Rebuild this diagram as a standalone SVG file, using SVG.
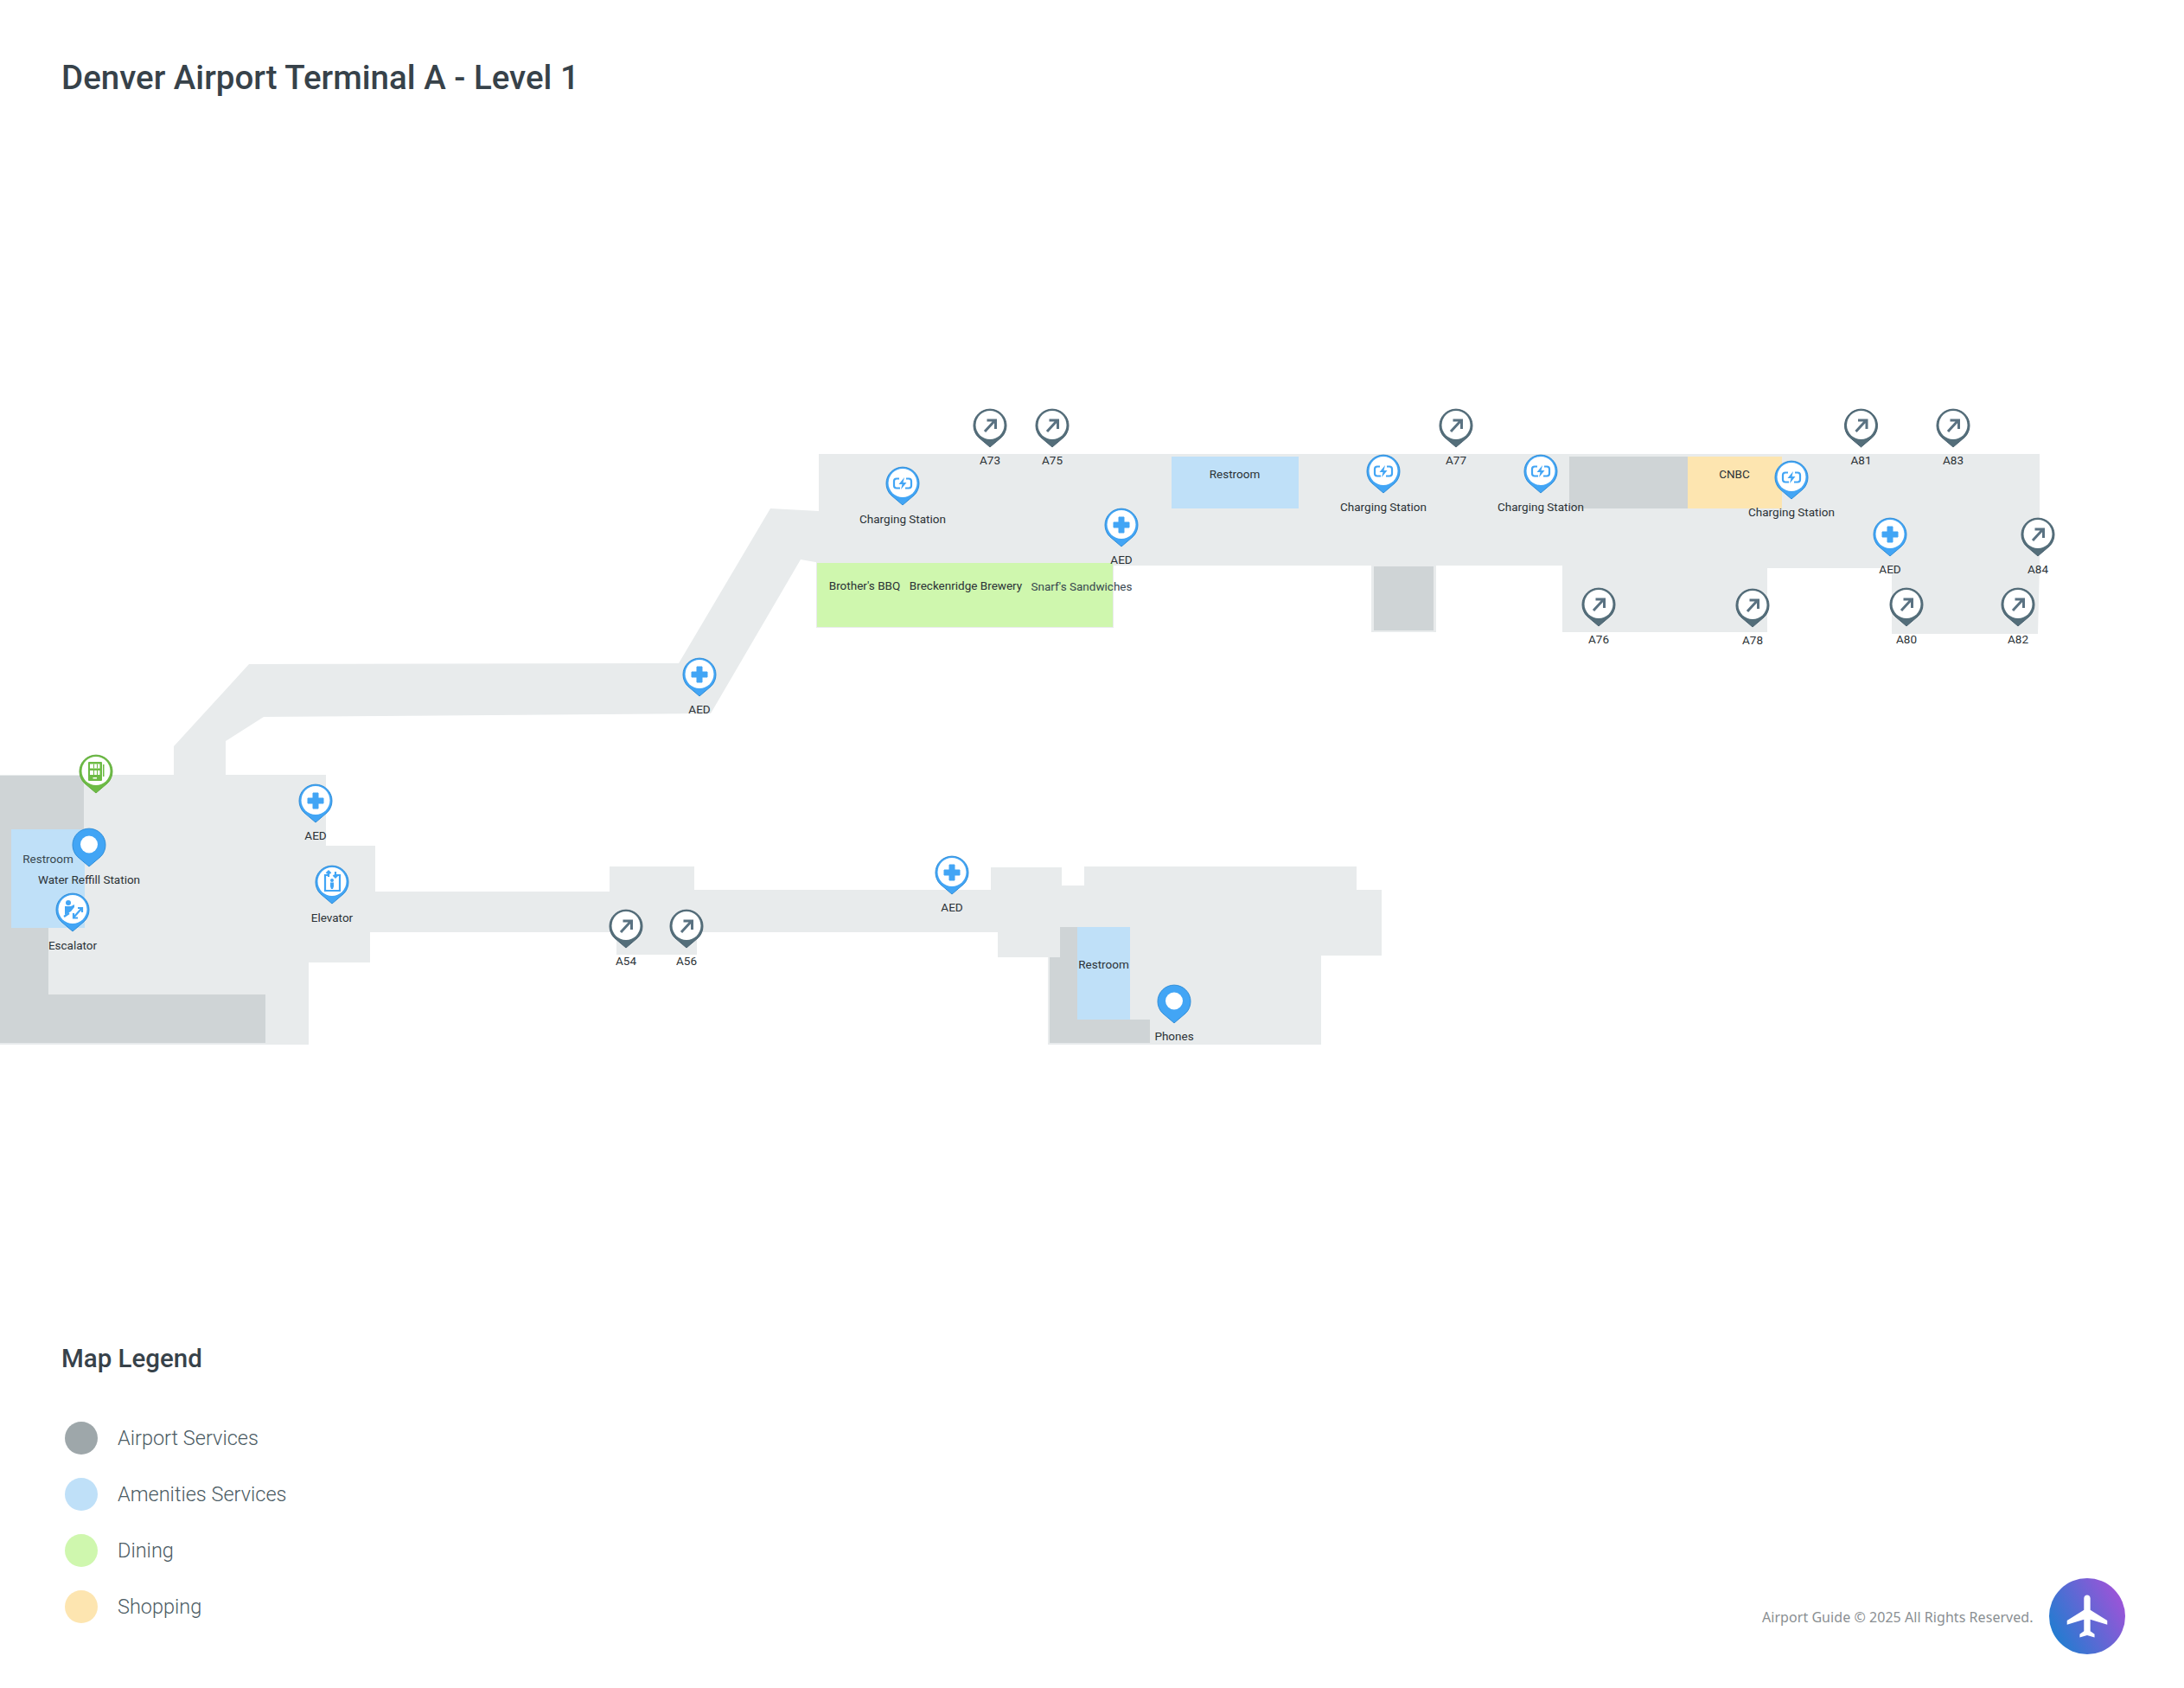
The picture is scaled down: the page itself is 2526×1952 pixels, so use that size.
<svg xmlns="http://www.w3.org/2000/svg" width="2526" height="1952" viewBox="0 0 2526 1952">
<style>
.floor{fill:#e8ebec}.svc{fill:#cfd4d6}.am{fill:#bfe0f8}.din{fill:#cff7ae}.shop{fill:#fde5b0}
text{font-family:Roboto,"Liberation Sans",sans-serif}
.l{font-size:13.5px;fill:#2b3236;text-anchor:middle;dominant-baseline:central}
.r{fill:#37474f}
.lt{font-size:23.5px;font-weight:300;fill:#4c5c64}
.p-b{fill:#42a5f5;stroke:#2f8dd8;stroke-width:1}
.p-g{fill:#546e7a;stroke:#4a6270;stroke-width:1}
.p-v{fill:#6dbb45;stroke:#62ac3d;stroke-width:1}
.in{fill:#fff}
.i{fill:none;stroke:#42a5f5;stroke-width:2.2}
.f{fill:#42a5f5}
.ag{fill:none;stroke:#5a7282;stroke-width:3}
</style>
<defs>
<path id="pin" d="M0,25L-13.2,13.8A19,19 0 1 1 13.2,13.8Z"/>
<linearGradient id="lg" x1="0" y1="0.8" x2="1" y2="0.25"><stop offset="0" stop-color="#1a7fd0"/><stop offset="1" stop-color="#a152d8"/></linearGradient>
<g id="bg"><use href="#pin" class="p-b"/><circle r="16.5" cy="-0.5" class="in"/></g>
<g id="aed"><use href="#bg"/><path class="f" d="M-3,-9H3V-3H9V3H3V9H-3V3H-9V-3H-3Z" stroke="#42a5f5" stroke-width="1" stroke-linejoin="round"/></g>
<g id="gate"><use href="#pin" class="p-g"/><circle r="16.5" cy="-0.5" class="in"/><path class="ag" d="M-6,7L5.500,-5.500M-3.500,-6H6.500V4"/></g>
<g id="chg"><use href="#bg"/><path class="i" d="M-4,-5.500H-7Q-10,-5.500 -10,-2.500V2.500Q-10,5.500 -7,5.500H-3M4,-5.500H7Q10,-5.500 10,-2.500V2.500Q10,5.500 7,5.500H3"/><path class="f" d="M2,-7L-4.500,1H-0.500L-2,7L4.500,-1H0.500Z"/></g>
<g id="solid"><use href="#pin" class="p-b"/><circle r="10" cy="-0.5" class="in"/></g>
</defs>
<rect width="2526" height="1952" fill="#fff"/>
<text x="71" y="102.500" font-size="38.500" font-weight="500" fill="#37424a">Denver Airport Terminal A - Level 1</text>
<g id="floorplan">
<path class="floor" d="M0,896H201V863L288,768L785,767L891,588L947,591V525H2359V654L2357,733H2188V657H2044V731H1807V654H1661V731H1586V654H1287V650H943V650L926,647L822,825L305,829L261,857V896H377V978H434V1031H705V1002H803V1029H1146V1003H1228V1024H1254V1002H1569V1029H1598V1105H1528V1208H1212V1107H1154V1078H806V1104H713V1078H428V1113H357V1208H0Z"/>
<rect class="floor" x="944" y="650" width="344" height="76"/>
<path class="svc" d="M0,897H97V1073H56V1150H307V1206H0Z"/>
<rect class="am" x="13" y="959" width="85" height="114"/>
<rect class="din" x="945" y="651" width="342" height="74"/>
<rect class="am" x="1355" y="528" width="147" height="60"/>
<rect class="svc" x="1589" y="655" width="69" height="74"/>
<rect class="svc" x="1815" y="528" width="137" height="60"/>
<rect class="shop" x="1952" y="528" width="109" height="60"/>
<path class="svc" d="M1226,1072H1246V1179H1330V1206H1214V1107H1226Z"/>
<rect class="am" x="1246" y="1072" width="61" height="107"/>
</g>
<g id="area-labels">
<text class="l r" x="55.500" y="993">Restroom</text>
<text class="l" x="1000" y="677">Brother's BBQ</text>
<text class="l" x="1117" y="677">Breckenridge Brewery</text>
<text class="l r" x="1251" y="678">Snarf's Sandwiches</text>
<text class="l" x="1428" y="548">Restroom</text>
<text class="l" x="2006" y="548">CNBC</text>
<text class="l" x="1276.500" y="1115">Restroom</text>
</g>
<g id="pois">
<g id="poi-a73" transform="translate(1145,492)"><use href="#gate"/><text class="l" y="40">A73</text></g>
<g id="poi-a75" transform="translate(1217,492)"><use href="#gate"/><text class="l" y="40">A75</text></g>
<g id="poi-a77" transform="translate(1684,492)"><use href="#gate"/><text class="l" y="40">A77</text></g>
<g id="poi-a81" transform="translate(2152.500,492)"><use href="#gate"/><text class="l" y="40">A81</text></g>
<g id="poi-a83" transform="translate(2259,492)"><use href="#gate"/><text class="l" y="40">A83</text></g>
<g id="poi-a84" transform="translate(2357,618)"><use href="#gate"/><text class="l" y="40">A84</text></g>
<g id="poi-a76" transform="translate(1849,699)"><use href="#gate"/><text class="l" y="40">A76</text></g>
<g id="poi-a78" transform="translate(2027,700)"><use href="#gate"/><text class="l" y="40">A78</text></g>
<g id="poi-a80" transform="translate(2205,699)"><use href="#gate"/><text class="l" y="40">A80</text></g>
<g id="poi-a82" transform="translate(2334,699)"><use href="#gate"/><text class="l" y="40">A82</text></g>
<g id="poi-a54" transform="translate(724,1071)"><use href="#gate"/><text class="l" y="40">A54</text></g>
<g id="poi-a56" transform="translate(794,1071)"><use href="#gate"/><text class="l" y="40">A56</text></g>
<g id="poi-charging-1" transform="translate(1044,559)"><use href="#chg"/><text class="l" y="41">Charging Station</text></g>
<g id="poi-charging-2" transform="translate(1600,545)"><use href="#chg"/><text class="l" y="41">Charging Station</text></g>
<g id="poi-charging-3" transform="translate(1782,545)"><use href="#chg"/><text class="l" y="41">Charging Station</text></g>
<g id="poi-charging-4" transform="translate(2072,552)"><use href="#chg"/><text class="l" y="40">Charging Station</text></g>
<g id="poi-aed-1" transform="translate(1297,607)"><use href="#aed"/><text class="l" y="40">AED</text></g>
<g id="poi-aed-2" transform="translate(2186,618)"><use href="#aed"/><text class="l" y="40">AED</text></g>
<g id="poi-aed-3" transform="translate(809,780)"><use href="#aed"/><text class="l" y="40">AED</text></g>
<g id="poi-aed-4" transform="translate(365,926)"><use href="#aed"/><text class="l" y="40">AED</text></g>
<g id="poi-aed-5" transform="translate(1101,1009)"><use href="#aed"/><text class="l" y="40">AED</text></g>
<g id="poi-vending" transform="translate(111,892)"><use href="#pin" class="p-v"/><circle r="16.500" cy="-0.500" class="in"/><rect x="-9" y="-11" width="16" height="22" rx="1" fill="#6dbb45"/><rect x="8" y="-8" width="1.500" height="14" fill="#6dbb45"/><path fill="#fff" d="M-7,-8.500H4.500V-3.500H-7ZM-7,-1H4.500V4H-7ZM-3.500,7H1V8.500H-3.500Z"/><path fill="#6dbb45" d="M-3,-8.500H-2V-3.500H-3ZM1,-8.500H2V-3.500H1ZM-3,-1H-2V4H-3ZM1,-1H2V4H1Z"/></g>
<g id="poi-water" transform="translate(103,977)"><use href="#solid"/><text class="l" y="40">Water Reffill Station</text></g>
<g id="poi-escalator" transform="translate(84,1052)"><use href="#bg"/><circle cx="-5" cy="-8" r="3" class="f"/><path class="f" d="M-9,-4H-2L2,-6V-3L-2,2L-9,6V3Z"/><path class="i" stroke-width="2" d="M-10,8L-4,4M1,9L10,-1M6,-2H11V3M1,4V9.500H6"/><text class="l" y="41">Escalator</text></g>
<g id="poi-elevator" transform="translate(384,1020)"><use href="#bg"/><path class="i" d="M-3,-8H-8V10H9V-8H4"/><circle cy="-2" r="2" class="f"/><path class="f" d="M-2,0.500H2V5L1,8H-1L-2,5Z"/><path class="i" stroke-width="1.500" d="M-4,-6V-12M-6.500,-10L-4,-12.500L-1.500,-10M4,-12V-6M1.500,-8L4,-5.500L6.500,-8"/><text class="l" y="41">Elevator</text></g>
<g id="poi-phones" transform="translate(1358,1158)"><use href="#solid"/><text class="l" y="40">Phones</text></g>
</g>
<g id="legend">
<text x="71" y="1581" font-size="29.500" font-weight="500" fill="#37424a">Map Legend</text>
<circle cx="94" cy="1663" r="19" fill="#9ea7aa"/><text class="lt" x="136" y="1671">Airport Services</text>
<circle cx="94" cy="1728" r="19" fill="#bfe0f8"/><text class="lt" x="136" y="1736">Amenities Services</text>
<circle cx="94" cy="1793" r="19" fill="#cff7ae"/><text class="lt" x="136" y="1801">Dining</text>
<circle cx="94" cy="1858" r="19" fill="#fde5b0"/><text class="lt" x="136" y="1866">Shopping</text>
</g>
<g id="footer">
<text x="2038" y="1876" font-size="16" fill="#8a8f92" style="font-family:'Noto Sans',sans-serif;letter-spacing:.05px">Airport Guide © 2025 All Rights Reserved.</text>
<circle cx="2414" cy="1869" r="44" fill="url(#lg)"/>
<path fill="#fff" transform="translate(2385.800,1839.600) scale(2.450)" d="M21 16v-2l-8-5V3.500c0-.83-.67-1.500-1.500-1.500S10 2.670 10 3.500V9l-8 5v2l8-2.500V19l-2 1.500V22l3.500-1 3.500 1v-1.500L13 19v-5.500l8 2.500z"/>
</g>
</svg>
